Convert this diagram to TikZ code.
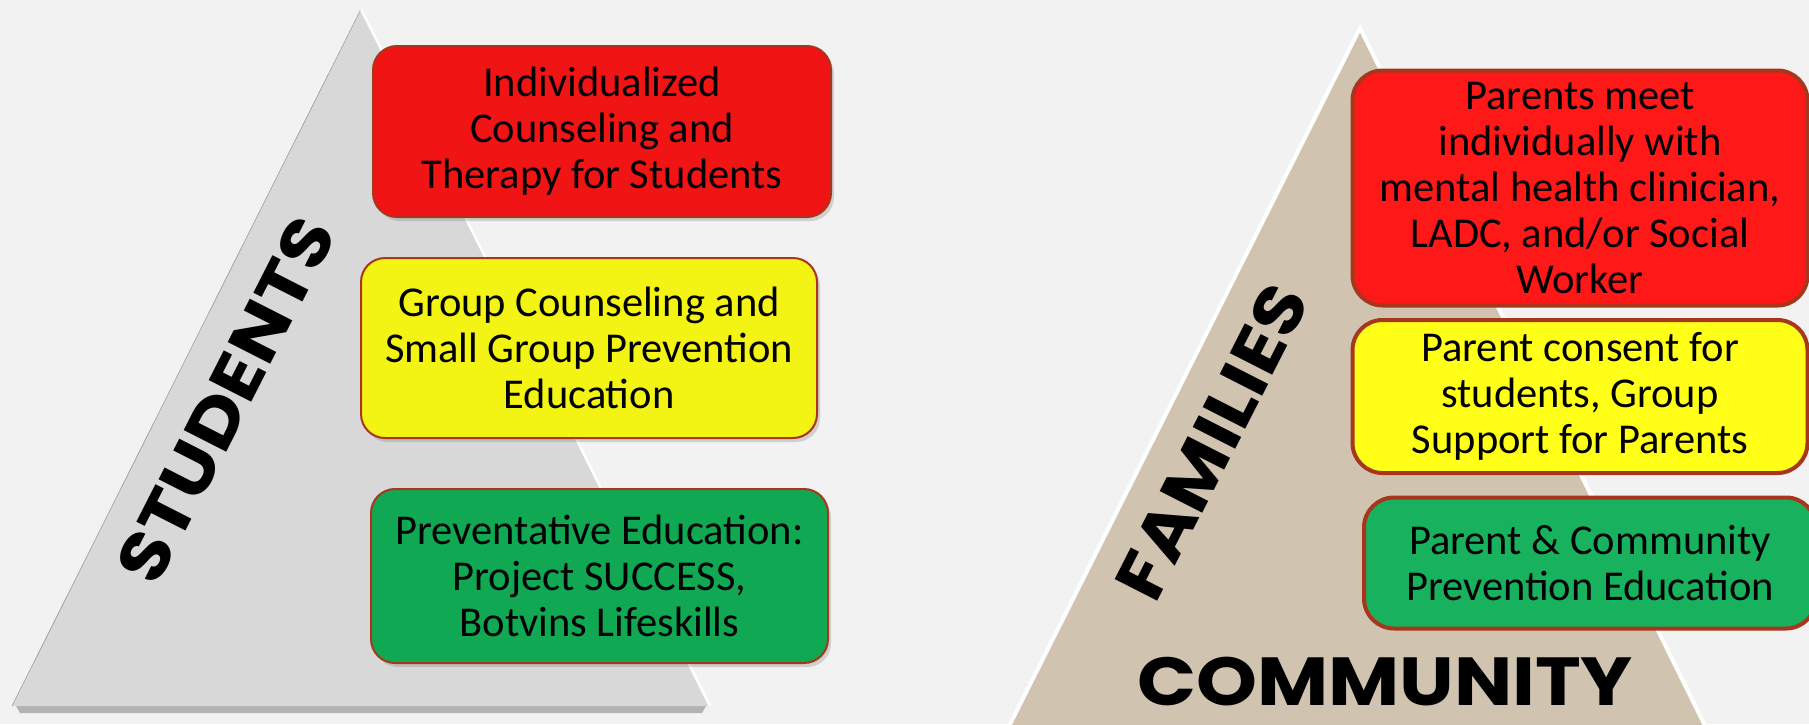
\documentclass[tikz,border=0pt]{standalone}
\usepackage{fontspec}
\setmainfont{Carlito}
\newfontfamily\bigword{Poppins}[FakeStretch=1.14]
\usetikzlibrary{shadows}

\definecolor{bgcol}{HTML}{F2F2F2}
\definecolor{leftgray}{HTML}{D8D8D8}
\definecolor{tancol}{HTML}{D0C4B1}
\definecolor{tierred}{HTML}{F01414}
\definecolor{tieryellow}{HTML}{F4F414}
\definecolor{tiergreen}{HTML}{10A852}
\definecolor{tierredR}{HTML}{FF1818}
\definecolor{tieryellowR}{HTML}{FFFF18}
\definecolor{tiergreenR}{HTML}{18B25E}
\definecolor{rimcol}{HTML}{A8361C}

\tikzset{
  tier/.style={draw=rimcol, align=center, inner sep=0pt,
    font=\fontsize{42.5}{46}\selectfont},
  tierL/.style={tier, rounded corners=24pt, line width=2pt,
    drop shadow={shadow xshift=3pt, shadow yshift=-4pt, opacity=0.3}},
  tierR/.style={tier, rounded corners=30pt, line width=4pt},
  sidelabel/.style={font=\bigword\bfseries\fontsize{68}{68}\selectfont, inner sep=0pt}
}

\begin{document}
\begin{tikzpicture}[x=1pt, y=-1pt]
        \useasboundingbox (0, 0) rectangle (1809, 724);
        \clip (0, 0) rectangle (1809, 724);
        \fill[bgcol] (0, 0) rectangle (1809, 724);

        % students pyramid
        \fill[black!30] (16, 706) -- (706, 706) -- (702, 713) -- (20, 713) -- cycle;
        \fill[leftgray] (12, 706) -- (361, 9) -- (710, 706) -- cycle;
        \draw[gray!80, line width=0.6pt] (12, 706) -- (361, 9);
        \draw[white, line width=2.5pt] (361, 9) -- (710, 706);

        % families pyramid
        \filldraw[fill=tancol, draw=white, line width=4pt] (1360, 28) -- (1722, 760) -- (992, 760) -- cycle;

        % student tiers
        \node[tierL, fill=tierred, minimum width=458pt, minimum height=171pt] (indiv) at (602, 131.5)
            {Individualized\\Counseling and\\Therapy for Students};
        \node[tierL, fill=tieryellow, minimum width=456pt, minimum height=180pt] (group) at (589, 348)
            {Group Counseling and\\Small Group Prevention\\Education};
        \node[tierL, fill=tiergreen, minimum width=457pt, minimum height=174pt] (prevent) at (599.5, 576)
            {Preventative Education:\\Project SUCCESS,\\Botvins Lifeskills};

        % family tiers
        \node[tierR, fill=tierredR, minimum width=455pt, minimum height=235pt] (meet) at (1580, 188)
            {Parents meet\\individually with\\mental health clinician,\\LADC, and/or Social\\Worker};
        \node[tierR, fill=tieryellowR, minimum width=455pt, minimum height=153pt] (consent) at (1580, 396.5)
            {Parent consent for\\students, Group\\Support for Parents};
        \node[tierR, fill=tiergreenR, minimum width=452pt, minimum height=131pt] (outreach) at (1590, 563)
            {Parent \& Community\\Prevention Education};

        % side labels
        \node[sidelabel, rotate=63] (students) at (226, 400) {STUDENTS};
        \node[sidelabel, rotate=63] (families) at (1212, 442) {FAMILIES};
        \node[sidelabel] (commlabel) at (1385, 682) {COMMUNITY};
    \end{tikzpicture}
\end{document}
